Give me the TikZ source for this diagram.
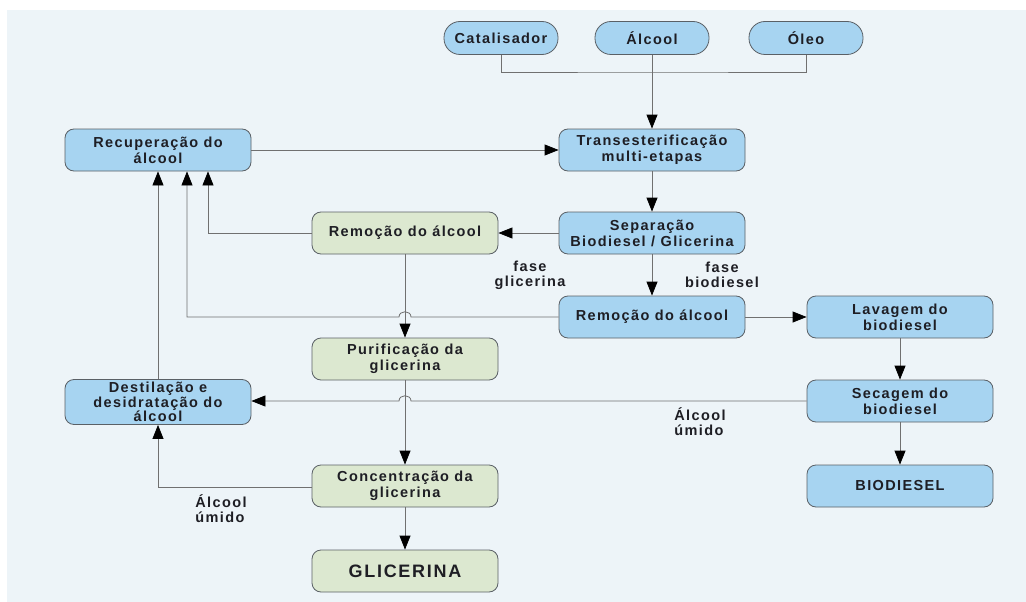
\documentclass[tikz,border=0pt]{standalone}
\usepackage{fontspec}
\setmainfont{Liberation Sans}
\newfontfamily\labfont{Liberation Sans}[LetterSpace=9.5]
\usetikzlibrary{arrows.meta}
\definecolor{bgc}{HTML}{EDF4F8}
\definecolor{blueF}{HTML}{A7D4F1}
\definecolor{greenF}{HTML}{DCE8D0}
\definecolor{bordc}{HTML}{5A6066}
\definecolor{linec}{HTML}{707070}
\definecolor{textc}{HTML}{1E1E24}
\tikzset{
  box/.style={draw=bordc, line width=0.8pt, rounded corners=9pt, minimum width=186pt,
    minimum height=42pt, inner sep=0pt, align=center, text=textc,
    font=\labfont\bfseries\fontsize{14.5}{16}\selectfont},
  bluebox/.style={box, fill=blueF},
  greenbox/.style={box, fill=greenF},
  pill/.style={bluebox, rounded corners=16pt, minimum width=114pt, minimum height=33pt},
  lbl/.style={inner sep=0pt, text=textc, font=\labfont\bfseries\fontsize{14.5}{15}\selectfont},
  conn/.style={draw=linec, line width=0.8pt},
  arr/.style={conn, -{Triangle[length=14pt,width=11pt,color=black]}},
}
\begin{document}
\begin{tikzpicture}[x=1pt,y=-1pt]
\useasboundingbox (0,0) rectangle (1026,602);
\fill[white] (0,0) rectangle (1026,602);
\fill[bgc] (7,10) rectangle (1026,602);

% nodes
\node[pill] (catal) at (501,38) {Catalisador};
\node[pill] (alc) at (652,38) {Álcool};
\node[pill] (oleo) at (806,38) {Óleo};
\node[bluebox] (recup) at (158,150) {Recuperação do\\álcool};
\node[bluebox] (trans) at (652,150) {Transesterificação\\multi-etapas};
\node[bluebox] (sep) at (652,233) {Separação\\Biodiesel / Glicerina};
\node[greenbox] (remg) at (405,233) {Remoção do álcool};
\node[bluebox] (remb) at (652,317) {Remoção do álcool};
\node[bluebox] (lav) at (900,317) {Lavagem do\\biodiesel};
\node[bluebox] (sec) at (900,401) {Secagem do\\biodiesel};
\node[bluebox] (bio) at (900,486) {BIODIESEL};
\node[greenbox] (purif) at (405,359) {Purificação da\\glicerina};
\node[bluebox, minimum height=45pt, font=\labfont\bfseries\fontsize{14.5}{12.8}\selectfont] (dest) at (158,402) {Destilação e\\desidratação do\\álcool};
\node[greenbox] (conc) at (405,486) {Concentração da\\glicerina};
\node[greenbox, font=\labfont\bfseries\fontsize{18}{20}\selectfont] (glic) at (405,571) {GLICERINA};

% labels
\node[lbl, align=center] (lfg) at (530,275) {fase\\glicerina};
\node[lbl, align=center] (lfb) at (722,275) {fase\\biodiesel};
\node[lbl, align=left] (lau1) at (700,422) {Álcool\\úmido};
\node[lbl, align=left] (lau2) at (221,509) {Álcool\\úmido};

% connectors
\coordinate (jn) at (652,72);
\draw[conn] (catal.south) |- (jn) -| (oleo.south);
\draw[arr] (alc.south) -- (trans.north);
\draw[arr] (recup.east) -- (trans.west);
\draw[arr] (trans.south) -- (sep.north);
\draw[arr] (sep.west) -- (remg.east);
\draw[arr] (sep.south) -- (remb.north);
\coordinate (c208) at (208,233);
\draw[arr] (remg.west) -- (c208) -- (c208 |- recup.south);
\coordinate (c187) at (187,317);
\draw[arr] (remb.west) -- (411,317) .. controls (411,310) and (399,310) .. (399,317) -- (c187) -- (c187 |- recup.south);
\draw[arr] (dest.north) -- (recup.south -| dest.north);
\draw[arr] (remb.east) -- (lav.west);
\draw[arr] (lav.south) -- (sec.north);
\draw[arr] (sec.south) -- (bio.north);
\draw[arr] (sec.west) -- (411,401) .. controls (411,394) and (399,394) .. (399,401) -- (dest.east |- 0,401);
\draw[arr] (remg.south) -- (purif.north);
\draw[arr] (purif.south) -- (conc.north);
\draw[arr] (conc.south) -- (glic.north);
\coordinate (c158) at (158,487);
\draw[arr] (conc.west |- c158) -- (c158) -- (dest.south);
\end{tikzpicture}
\end{document}
